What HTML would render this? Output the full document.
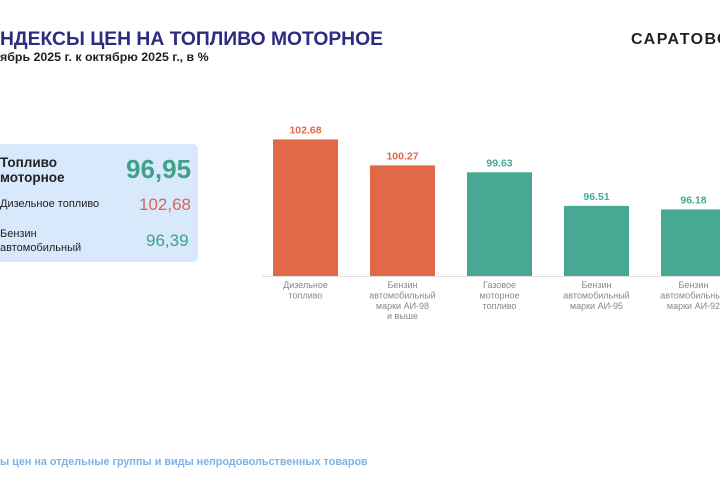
<!DOCTYPE html>
<html><head><meta charset="utf-8"><style>
body{margin:0;width:720px;height:480px;overflow:hidden;background:#fff;position:relative;font-family:"Liberation Sans",sans-serif}
.a{position:absolute;white-space:nowrap}
</style></head><body>
<div class="a" style="left:0;top:29px;font-size:19.3px;font-weight:bold;color:#2f2b80">НДЕКСЫ ЦЕН НА ТОПЛИВО МОТОРНОЕ</div>
<div class="a" style="left:0;top:50px;font-size:12.4px;font-weight:bold;color:#222">ябрь 2025 г. к октябрю 2025 г., в %</div>
<div class="a" style="left:631px;top:31px;font-size:16px;font-weight:bold;color:#222;letter-spacing:1.5px">САРАТОВС</div>
<div class="a" style="left:0;top:144px;width:198px;height:118px;background:#d8e9fb;border-radius:0 5px 5px 0"></div>
<div class="a" style="left:0;top:155px;font-size:13.5px;font-weight:bold;color:#222;line-height:15px">Топливо<br>моторное</div>
<div class="a" style="left:126px;top:154px;font-size:26px;font-weight:bold;color:#3fa18a">96,95</div>
<div class="a" style="left:0;top:198px;font-size:11px;color:#222">Дизельное топливо</div>
<div class="a" style="left:139px;top:195px;font-size:17px;color:#d96650">102,68</div>
<div class="a" style="left:0;top:227px;font-size:11px;color:#222;line-height:14px">Бензин<br>автомобильный</div>
<div class="a" style="left:146px;top:231px;font-size:17px;color:#3fa18a">96,39</div>
<svg id="ch" class="a" style="left:0;top:0" width="720" height="480"></svg>
<div class="a" style="left:0;top:456px;font-size:10.8px;font-weight:bold;color:#7cb3e6">ы цен на отдельные группы и виды непродовольственных товаров</div>
<script>
const categories=[["Дизельное","топливо"],["Бензин","автомобильный","марки АИ-98","и выше"],["Газовое","моторное","топливо"],["Бензин","автомобильный","марки АИ-95"],["Бензин","автомобильный","марки АИ-92"]];
const values=[102.68,100.27,99.63,96.51,96.18];
const labels=["102.68","100.27","99.63","96.51","96.18"];
const colors=["#e2684a","#e2684a","#47a993","#47a993","#47a993"];
const svg=document.getElementById('ch');const NS="http://www.w3.org/2000/svg";
const base=276,vmin=90,k=10.77;
const y=v=>base-(v-vmin)*k;
const x=i=>273+i*97;
function mk(t,a){const e=document.createElementNS(NS,t);for(const n in a)e.setAttribute(n,a[n]);svg.appendChild(e);return e;}
const ax=mk('line',{x1:262,x2:720,y1:base+0.5,y2:base+0.5,stroke:'#ddd'});


values.forEach((v,i)=>{
 const r=mk('rect',{x:x(i),y:y(v),width:65,height:base-y(v),fill:colors[i]});
 
 
 const t=mk('text',{x:x(i)+32.5,y:y(v)-6,'text-anchor':'middle','font-size':10.5,'font-weight':'bold',fill:colors[i]});
 t.textContent=labels[i];
 
 
 categories[i].forEach((s,j)=>{
  const c=mk('text',{x:x(i)+32.5,y:base+12+j*10.4,'text-anchor':'middle','font-size':9,fill:'#888'});
  c.textContent=s;
  
  
 });
});
</script>
</body></html>
